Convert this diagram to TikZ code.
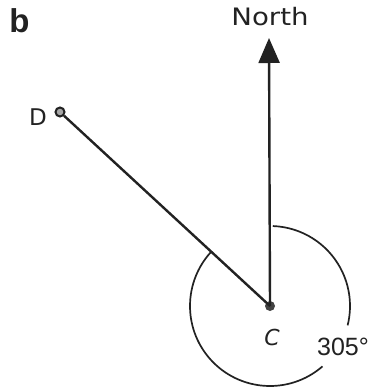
\documentclass[tikz,border=0pt]{standalone}
\usepackage{fontspec}
\setmainfont{Liberation Sans}
\newfontfamily\hand{DejaVu Sans}
\usetikzlibrary{arrows.meta}
\definecolor{ink}{HTML}{222222}
\tikzset{
  seg/.style={draw=ink, line width=2.4pt},
  anglearc/.style={draw=ink, line width=1.7pt},
  cdot/.style={circle, fill=ink!85, inner sep=0pt, minimum size=10pt},
  ddot/.style={circle, draw=ink, line width=2pt, fill=ink!40, inner sep=0pt, minimum size=9pt},
  lbl/.style={text=ink, inner sep=0pt},
}
\begin{document}
\begin{tikzpicture}[x=1pt,y=1pt]
\fill[white] (0,0) rectangle (372,-388);
\useasboundingbox (0,0) rectangle (372,-388);
\coordinate (N) at (269,-38);
\node[cdot] (C) at (270,-306) {};
\node[ddot] (D) at (60,-112) {};
\draw[seg] (C.center) -- (D);
\draw[seg, -{Triangle[length=25pt,width=21pt]}] (C.center) -- (N);
\draw[anglearc] ([shift={(88:80pt)}]C.center) arc[start angle=88, end angle=-14, radius=80pt];
\draw[anglearc] ([shift={(-49:80pt)}]C.center) arc[start angle=-49, end angle=-222.7, radius=80pt];
\node[lbl, font=\bfseries\fontsize{33}{33}\selectfont] (b) at (19.5,-21) {b};
\node[lbl, font=\hand\fontsize{24}{24}\selectfont, xscale=1.15] (north) at (270,-17) {North};
\node[lbl, font=\hand\fontsize{23}{23}\selectfont] (dl) at (38,-117) {D};
\node[lbl, font=\hand\itshape\fontsize{22}{22}\selectfont] (cl) at (272,-337) {C};
\node[lbl, font=\fontsize{25}{25}\selectfont] (ang) at (343,-347) {305°};
\end{tikzpicture}
\end{document}
